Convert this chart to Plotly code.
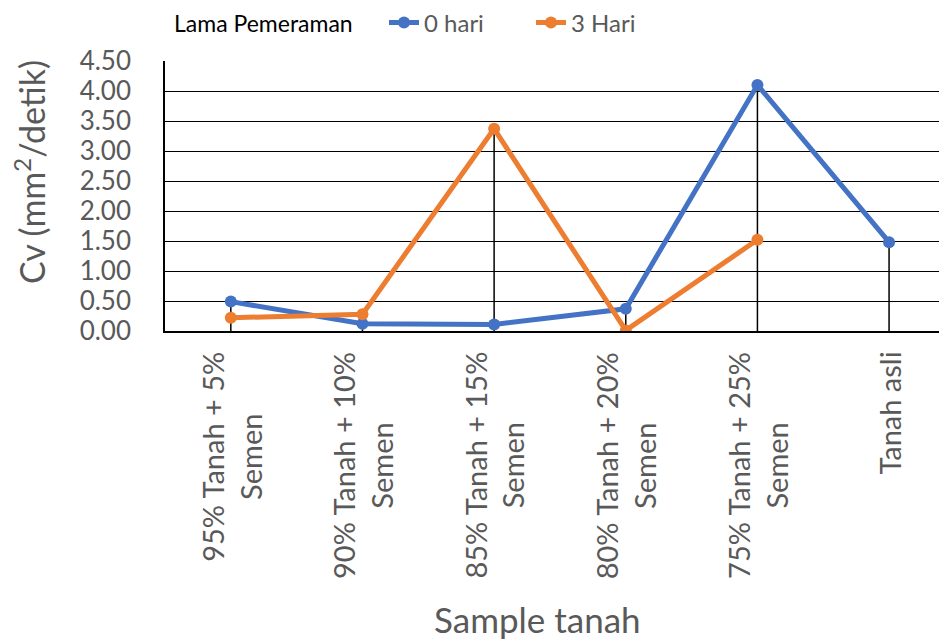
import plotly.graph_objects as go

# Data
categories = [
    "95% Tanah + 5% Semen",
    "90% Tanah + 10% Semen",
    "85% Tanah + 15% Semen",
    "80% Tanah + 20% Semen",
    "75% Tanah + 25% Semen",
    "Tanah asli",
]
tick_labels = [
    "95% Tanah + 5%<br>Semen",
    "90% Tanah + 10%<br>Semen",
    "85% Tanah + 15%<br>Semen",
    "80% Tanah + 20%<br>Semen",
    "75% Tanah + 25%<br>Semen",
    "Tanah asli",
]
cv_0_hari = [0.49, 0.12, 0.11, 0.37, 4.10, 1.48]
cv_3_hari = [0.22, 0.28, 3.37, 0.01, 1.52, None]
y_ticks = [0, 0.5, 1.0, 1.5, 2.0, 2.5, 3.0, 3.5, 4.0, 4.5]

BLUE = "#4472C4"
ORANGE = "#ED7D31"
GREY = "#595959"
FONT = "Lato"

# the page body keeps its default 8px margin, so work in figure coords
OFF = 8
W, H = 947 - OFF, 643 - OFF
left, top = 165 - OFF, 61 - OFF
plot_h = 270
bottom = H - top - plot_h
plot_w = W - left


def px_x(x):
    """page x pixel -> paper x"""
    return (x - OFF - left) / plot_w


def px_y(y):
    """page y pixel -> paper y"""
    return (H - bottom - (y - OFF)) / plot_h


fig = go.Figure()

# Excel-style drop lines: from highest point of each category down to the axis
drop_x, drop_y = [], []
for i, cat in enumerate(categories):
    vals = [v for v in (cv_0_hari[i], cv_3_hari[i]) if v is not None]
    drop_x += [cat, cat, None]
    drop_y += [0, max(vals), None]
fig.add_trace(go.Scatter(
    x=drop_x, y=drop_y, mode="lines",
    line=dict(color="black", width=1.5),
    showlegend=False, hoverinfo="skip"
))

fig.add_trace(go.Scatter(
    x=categories, y=cv_0_hari, mode="lines+markers", name="0 hari",
    line=dict(color=BLUE, width=5), marker=dict(size=12, color=BLUE)
))
fig.add_trace(go.Scatter(
    x=categories, y=cv_3_hari, mode="lines+markers", name="3 Hari",
    line=dict(color=ORANGE, width=5), marker=dict(size=12, color=ORANGE)
))

# rotated category labels, lines centred like Excel does
annotations = []
for cat, lab in zip(categories, tick_labels):
    annotations.append(dict(
        text=lab, x=cat, xref="x", y=px_y(350), yref="paper",
        textangle=-90, xanchor="center", yanchor="top", align="center",
        showarrow=False, font=dict(size=29, color=GREY, family=FONT),
    ))

annotations += [
    dict(text="Lama Pemeraman", xref="paper", yref="paper",
         x=px_x(172), y=px_y(23), xanchor="left", yanchor="middle",
         showarrow=False, font=dict(size=23, color="black", family=FONT)),
    dict(text="Cv (mm<sup>2</sup>/detik)", textangle=-90,
         xref="paper", yref="paper",
         x=px_x(30), y=px_y(172),
         xanchor="center", yanchor="middle", showarrow=False,
         font=dict(size=34, color=GREY, family=FONT)),
    dict(text="Sample tanah", xref="paper", yref="paper",
         x=px_x(537), y=px_y(619),
         xanchor="center", yanchor="middle", showarrow=False,
         font=dict(size=35, color=GREY, family=FONT)),
]

fig.update_layout(
    width=W, height=H,
    margin=dict(l=left, r=0, t=top, b=bottom, pad=0, autoexpand=False),
    plot_bgcolor="white", paper_bgcolor="white",
    font=dict(family=FONT, color=GREY),
    legend=dict(
        orientation="h", xref="container", yref="container",
        x=(384 - OFF) / W, xanchor="left",
        y=1 - (23 - OFF) / H, yanchor="middle",
        font=dict(size=24, color=GREY, family=FONT),
        bgcolor="rgba(0,0,0,0)", entrywidth=102,
    ),
    xaxis=dict(
        type="category", range=[-0.5, 5.44],
        showline=True, linecolor="black", linewidth=1.5,
        showgrid=False, ticks="", showticklabels=False,
    ),
    yaxis=dict(
        range=[0, 4.5], tickvals=y_ticks, tickformat=".2f",
        showline=True, linecolor="black", linewidth=1.5,
        showgrid=True, gridcolor="black", gridwidth=1.3,
        zeroline=False, ticks="",
        tickfont=dict(size=26, color=GREY, family=FONT),
        ticklabelstandoff=27,
    ),
    annotations=annotations,
)

fig.write_html("out.html")
